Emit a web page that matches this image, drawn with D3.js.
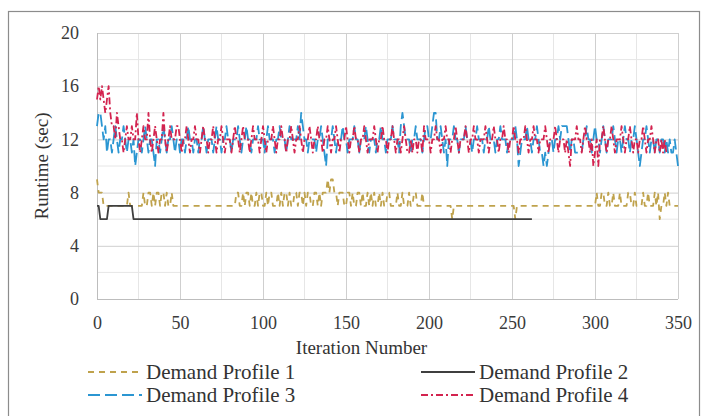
<!DOCTYPE html>
<html>
<head>
<meta charset="utf-8">
<script src="https://cdn.jsdelivr.net/npm/d3@7"></script>
<style>
  body { margin: 0; background: #fff; }
  svg { display: block; font-family: "Liberation Serif", "Times New Roman", serif; }
  svg text { font-family: "Liberation Serif", "Times New Roman", serif; }
</style>
</head>
<body>
<div id="chart"></div>
<script>
// runtime (sec) per iteration
const profile1 = [
  9,8,8,8,7,7,7,7,7,7, 7,7,7,7,7,7,7,7,7,8, 7,7,7,7,7,7,7,7,8,7, 7,8,8,7,8,7,8,8,7,8,
  8,7,8,7,7,8,7,7,7,7, 7,7,7,7,7,7,7,7,7,7, 7,7,7,7,7,7,7,7,7,7, 7,7,7,7,7,7,7,7,7,7,
  7,7,7,7,8,8,7,7,8,7, 8,8,7,8,7,7,8,7,8,8, 7,7,8,7,8,8,7,7,7,8, 7,8,7,8,8,7,8,7,7,8,
  8,7,8,8,7,8,7,8,8,7, 7,8,8,7,8,7,8,8,8,9, 8,9,9,8,8,7,8,8,8,7, 7,8,8,7,8,7,7,8,8,7,
  8,7,7,8,7,8,7,8,7,7, 8,7,8,7,7,8,8,7,7,7, 7,8,7,7,8,7,7,7,8,7, 7,8,8,7,7,7,8,7,7,7,
  7,7,7,7,7,7,7,7,7,7, 7,7,7,7,6,7,7,7,7,7, 7,7,7,7,7,7,7,7,7,7, 7,7,7,7,7,7,7,7,7,7,
  7,7,7,7,7,7,7,7,7,7, 7,7,6,7,7,7,7,7,7,7, 7,7,7,7,7,7,7,7,7,7, 7,7,7,7,7,7,7,7,7,7,
  7,7,7,7,7,7,7,7,7,7, 7,7,7,7,7,7,7,7,7,7, 7,8,7,7,8,8,7,7,8,7, 7,8,7,7,7,8,7,7,7,7,
  8,8,7,7,8,7,7,7,7,8, 7,7,8,7,7,7,8,7,8,6, 7,7,8,7,8,7,7,7,7,7, 7
];
const profile2 = [
  7,7,6,6,6,6,6,7,7,7, 7,7,7,7,7,7,7,7,7,7, 7,7,6,6,6,6,6,6,6,6, 6,6,6,6,6,6,6,6,6,6,
  6,6,6,6,6,6,6,6,6,6, 6,6,6,6,6,6,6,6,6,6, 6,6,6,6,6,6,6,6,6,6, 6,6,6,6,6,6,6,6,6,6,
  6,6,6,6,6,6,6,6,6,6, 6,6,6,6,6,6,6,6,6,6, 6,6,6,6,6,6,6,6,6,6, 6,6,6,6,6,6,6,6,6,6,
  6,6,6,6,6,6,6,6,6,6, 6,6,6,6,6,6,6,6,6,6, 6,6,6,6,6,6,6,6,6,6, 6,6,6,6,6,6,6,6,6,6,
  6,6,6,6,6,6,6,6,6,6, 6,6,6,6,6,6,6,6,6,6, 6,6,6,6,6,6,6,6,6,6, 6,6,6,6,6,6,6,6,6,6,
  6,6,6,6,6,6,6,6,6,6, 6,6,6,6,6,6,6,6,6,6, 6,6,6,6,6,6,6,6,6,6, 6,6,6,6,6,6,6,6,6,6,
  6,6,6,6,6,6,6,6,6,6, 6,6,6,6,6,6,6,6,6,6, 6,6,6
];
const profile3 = [
  13,14,14,13,12,13,11,12,12,11, 12,13,12,11,12,12,13,12,11,12, 12,11,12,10,11,12,12,11,12,13,
  12,11,12,12,11,10,12,12,11,12, 13,12,11,12,12,13,12,11,12,12, 11,12,12,11,12,13,12,12,11,12,
  12,11,12,12,13,12,11,12,12,12, 11,12,13,12,12,11,12,12,13,12, 12,11,12,12,12,13,12,11,12,12,
  13,12,12,11,12,12,12,13,12,12, 12,11,12,13,12,12,12,11,12,12, 13,12,12,12,11,12,13,12,12,12,
  12,13,12,14,13,12,12,11,12,12, 12,12,11,12,12,13,12,11,10,12, 12,12,13,12,11,12,12,12,13,12,
  12,11,12,12,12,13,12,12,11,12, 12,12,13,12,11,12,12,12,11,12, 12,13,12,12,11,12,12,12,13,12,
  12,12,11,13,14,13,12,12,12,11, 12,12,13,12,12,12,11,12,13,13, 12,12,13,14,14,12,12,13,12,11,
  12,10,12,12,12,13,12,12,11,12, 12,12,13,12,12,12,11,12,12,13, 12,12,12,11,12,12,13,12,12,12,
  11,12,12,13,12,12,12,11,12,12, 12,12,13,12,10,11,12,12,12,13, 12,12,11,12,12,13,12,11,11,10,
  11,10,11,12,12,11,12,12,13,12, 13,13,13,13,12,11,12,12,11,11, 11,11,11,12,12,13,12,12,11,12,
  13,12,12,11,12,13,12,11,12,12, 12,13,12,11,12,12,11,12,13,12, 12,11,12,12,13,12,11,10,11,12,
  12,13,12,11,12,12,11,12,12,11, 12,12,11,12,11,12,11,11,12,11, 10
];
const profile4 = [
  15,16,15,16,15,14,15,16,14,13, 13,12,14,13,12,12,11,12,13,12, 12,13,12,12,14,12,11,12,13,12,
  12,14,12,11,12,13,12,11,12,12, 14,12,11,12,13,12,12,12,13,13, 12,11,12,12,13,12,11,12,12,13,
  12,12,11,12,13,12,12,11,12,12, 13,12,11,12,12,13,12,11,12,12, 12,11,12,13,12,12,11,12,13,12,
  12,12,11,12,13,12,12,12,11,12, 13,12,11,12,12,12,13,12,11,12, 12,13,12,12,11,12,12,13,12,11,
  12,12,13,12,11,12,12,12,13,12, 11,12,12,13,12,12,11,12,12,13, 12,11,12,12,13,12,11,12,12,12,
  13,12,11,12,12,13,12,12,11,12, 12,13,12,11,12,12,12,13,12,11, 12,12,13,12,12,11,12,12,13,12,
  11,12,12,11,12,13,12,11,11,12, 11,12,12,11,12,12,11,13,12,12, 12,11,12,12,13,12,12,11,12,12,
  13,12,12,11,12,12,13,12,11,12, 12,12,13,12,11,12,12,13,12,12, 11,12,12,12,13,12,11,12,12,13,
  12,12,11,12,12,13,12,12,11,12, 12,13,12,12,11,12,12,12,13,12, 11,12,12,13,12,12,11,12,12,12,
  13,12,11,12,12,12,13,12,11,12, 12,12,11,12,11,10,12,12,12,13, 12,12,11,12,13,12,12,11,12,10,
  11,12,10,12,12,13,12,11,12,12, 13,12,11,12,12,12,13,12,11,12, 12,13,12,11,12,12,11,12,12,13,
  12,11,12,12,13,12,11,12,12,11, 12,11,12,11,11
];

const xTicks = [0, 50, 100, 150, 200, 250, 300, 350];
const xMinor = [25, 75, 125, 175, 225, 275, 325];
const yTicks = [0, 4, 8, 12, 16, 20];
const yMinor = [2, 6, 10, 14, 18];

const series = [
  { name: "Demand Profile 1", values: profile1, color: "#bfa24c", dash: "6,5" },
  { name: "Demand Profile 2", values: profile2, color: "#3f3f3f", dash: null },
  { name: "Demand Profile 3", values: profile3, color: "#2b96d2", dash: "12,5" },
  { name: "Demand Profile 4", values: profile4, color: "#d3234f", dash: "7,3,2,3" }
];

const width = 707, height = 416;
const plot = { left: 97, right: 678, top: 33, bottom: 299 };

const svg = d3.select("#chart").append("svg")
  .attr("width", width)
  .attr("height", height);

// outer frame of the chart object
svg.append("rect")
  .attr("x", 8.5).attr("y", 11.5)
  .attr("width", 691).attr("height", 420)
  .attr("fill", "none")
  .attr("stroke", "#8c8c8c")
  .attr("stroke-width", 1.2);

const x = d3.scaleLinear().domain([0, 350]).range([plot.left, plot.right]);
const y = d3.scaleLinear().domain([0, 20]).range([plot.bottom, plot.top]);

// minor grid
const grid = svg.append("g");
grid.selectAll(".vminor").data(xMinor).enter().append("line")
  .attr("x1", d => x(d)).attr("x2", d => x(d))
  .attr("y1", plot.top).attr("y2", plot.bottom)
  .attr("stroke", "#e6e6e6");
grid.selectAll(".hminor").data(yMinor).enter().append("line")
  .attr("x1", plot.left).attr("x2", plot.right)
  .attr("y1", d => y(d)).attr("y2", d => y(d))
  .attr("stroke", "#e6e6e6");

// major grid + labels through the axes
const yAxis = svg.append("g")
  .attr("transform", `translate(${plot.left},0)`)
  .call(d3.axisLeft(y).tickValues(yTicks).tickSize(-(plot.right - plot.left)).tickPadding(18));
const xAxis = svg.append("g")
  .attr("transform", `translate(0,${plot.bottom})`)
  .call(d3.axisBottom(x).tickValues(xTicks).tickSize(-(plot.bottom - plot.top)).tickPadding(17));

[yAxis, xAxis].forEach(g => {
  g.attr("font-family", null).attr("font-size", null);
  g.select(".domain").remove();
  g.selectAll(".tick line").attr("stroke", "#cfcfcf");
  g.selectAll(".tick text")
    .style("font-size", "18px")
    .attr("fill", "#3a3a3a");
});
xAxis.selectAll(".tick").filter(d => d === 0).select("line").attr("stroke", "#bdbdbd");
yAxis.selectAll(".tick").filter(d => d === 0).select("line").attr("stroke", "#bdbdbd");

// the lines
const line = d3.line()
  .x((d, i) => x(i))
  .y(d => y(d));

svg.append("g").selectAll("path")
  .data(series)
  .enter()
  .append("path")
  .attr("d", d => line(d.values))
  .attr("fill", "none")
  .attr("stroke", d => d.color)
  .attr("stroke-width", 1.8)
  .attr("stroke-dasharray", d => d.dash)
  .attr("stroke-linejoin", "round");

// axis titles
svg.append("text")
  .attr("x", (plot.left + plot.right) / 2 - 26)
  .attr("y", 354)
  .attr("text-anchor", "middle")
  .style("font-size", "19px")
  .attr("fill", "#333")
  .text("Iteration Number");

svg.append("text")
  .attr("transform", `translate(48,${(plot.top + plot.bottom) / 2}) rotate(-90)`)
  .attr("text-anchor", "middle")
  .style("font-size", "19px")
  .attr("fill", "#333")
  .text("Runtime (sec)");

// legend
const legendPos = [
  { lx: 88, ly: 372 }, { lx: 421, ly: 372 },
  { lx: 88, ly: 395 }, { lx: 421, ly: 395 }
];
const legend = svg.append("g").selectAll("g")
  .data(series)
  .enter()
  .append("g")
  .attr("transform", (d, i) => `translate(${legendPos[i].lx},${legendPos[i].ly})`);

legend.append("line")
  .attr("x1", 0).attr("x2", 54)
  .attr("stroke", d => d.color)
  .attr("stroke-width", 2)
  .attr("stroke-dasharray", d => d.dash);

legend.append("text")
  .attr("x", 58)
  .attr("dy", "0.35em")
  .style("font-size", "21px")
  .attr("fill", "#333")
  .text(d => d.name);
</script>
</body>
</html>
